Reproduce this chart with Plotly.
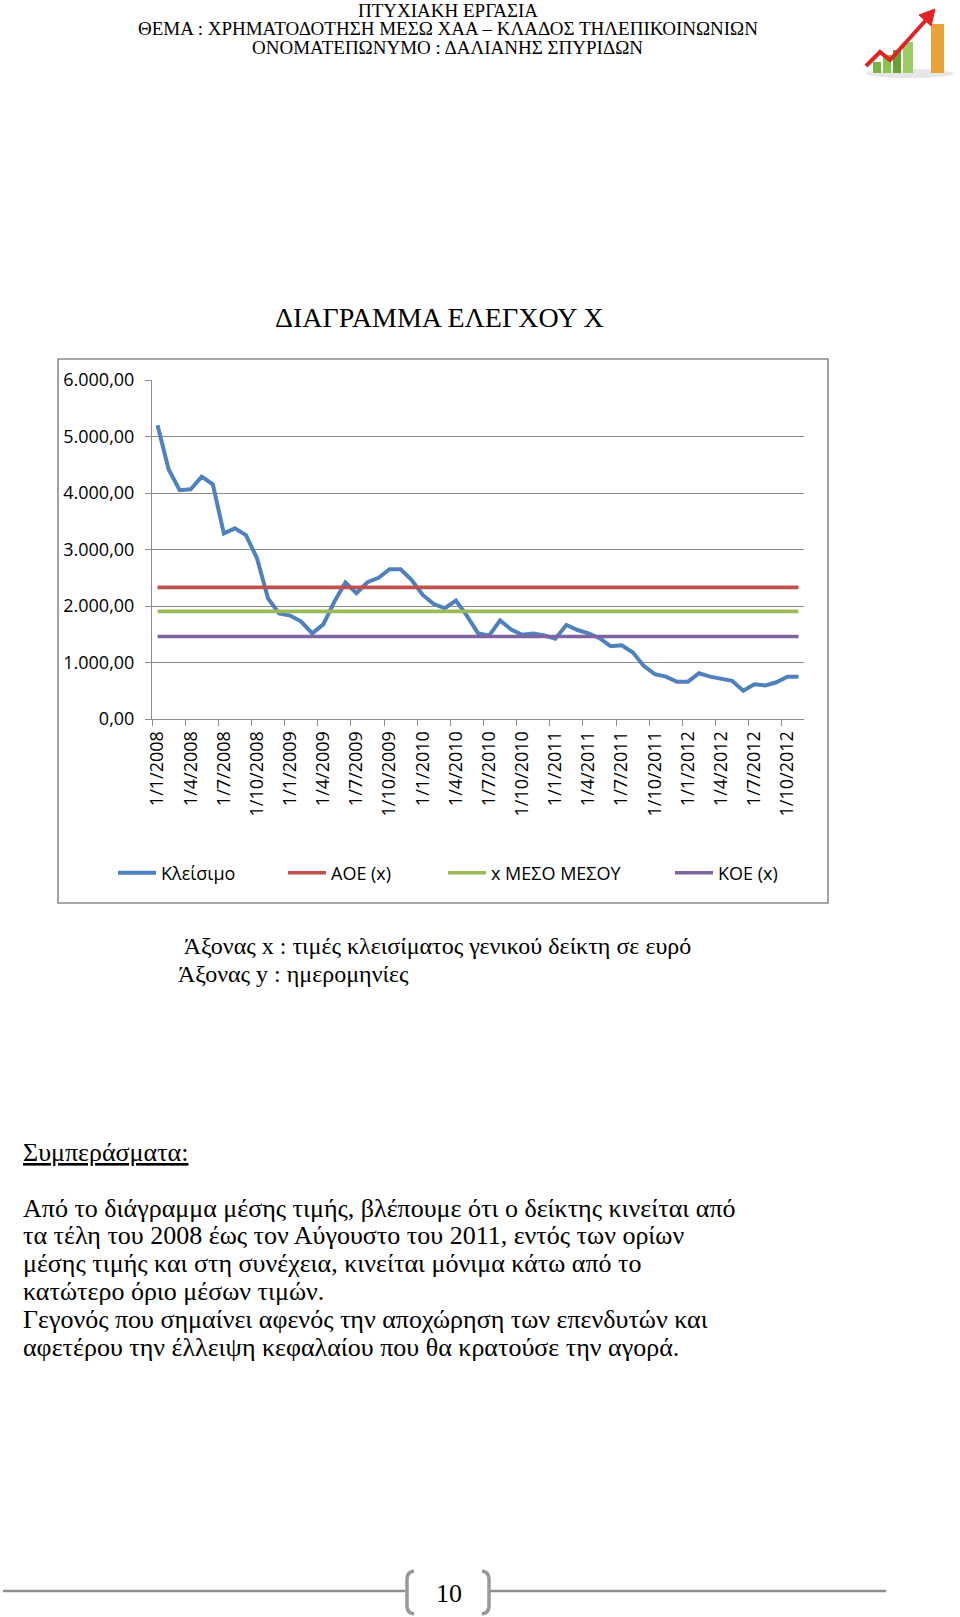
import plotly.graph_objects as go

# ---------------- data ----------------
months = [f"1/{m}/{y}" for y in range(2008, 2013) for m in range(1, 13)][:59]
closing = [5200, 4420, 4050, 4065, 4290, 4155, 3285, 3375, 3255, 2845,
           2135, 1870, 1830, 1725, 1515, 1675, 2075, 2415, 2225, 2420,
           2500, 2650, 2650, 2460, 2195, 2035, 1960, 2095, 1825, 1520,
           1475, 1745, 1585, 1490, 1515, 1480, 1420, 1665, 1575, 1515,
           1430, 1290, 1305, 1180, 940, 795, 750, 660, 660, 810,
           750, 710, 675, 500, 615, 595, 650, 750, 750]
aoe_x = 2330
mean_x = 1905
koe_x = 1460
series_names = ["Κλείσιμο", "ΑΟΕ (x)", "x ΜΕΣΟ ΜΕΣΟΥ", "ΚΟΕ (x)"]

header_lines = ["ΠΤΥΧΙΑΚΗ ΕΡΓΑΣΙΑ",
                "ΘΕΜΑ : ΧΡΗΜΑΤΟΔΟΤΗΣΗ ΜΕΣΩ ΧΑΑ – ΚΛΑΔΟΣ ΤΗΛΕΠΙΚΟΙΝΩΝΙΩΝ",
                "ΟΝΟΜΑΤΕΠΩΝΥΜΟ : ΔΑΛΙΑΝΗΣ ΣΠΥΡΙΔΩΝ"]
chart_title = "ΔΙΑΓΡΑΜΜΑ ΕΛΕΓΧΟΥ Χ"
caption_lines = [" Άξονας x : τιμές κλεισίματος γενικού δείκτη σε ευρό",
                 "Άξονας y : ημερομηνίες"]
conclusion_heading = "Συμπεράσματα:"
conclusion_lines = [
    "Από το διάγραμμα μέσης τιμής, βλέπουμε ότι ο δείκτης κινείται από",
    "τα τέλη του 2008 έως τον Αύγουστο του 2011, εντός των ορίων",
    "μέσης τιμής και στη συνέχεια, κινείται μόνιμα κάτω από το",
    "κατώτερο όριο μέσων τιμών.",
    "Γεγονός που σημαίνει αφενός την αποχώρηση των επενδυτών και",
    "αφετέρου την έλλειψη κεφαλαίου που θα κρατούσε την αγορά.",
]
page_number = "10"

# ---------------- geometry helpers ----------------
W, H = 960, 1617
L, R, T, B = 152, 156, 380, 898
PW = W - L - R
PH = H - T - B


def px(x):
    return (x - L) / PW


def py(y):
    return (H - B - y) / PH


def path(cmds):
    out = []
    for c in cmds:
        if isinstance(c, str):
            out.append(c)
        else:
            out.append(f"{px(c[0]):.5f},{py(c[1]):.5f}")
    return " ".join(out)


colors = ["#4F81BD", "#C0504D", "#9BBB59", "#8064A2"]
line_widths = [4, 3.6, 3.6, 3.6]
legend_widths = [117, 107, 174, 70]
axis_gray = "#8c8c8c"
chart_font = "Open Sans"
serif = "Liberation Serif"

fig = go.Figure()
series_values = [closing, [aoe_x] * len(months), [mean_x] * len(months), [koe_x] * len(months)]
for name, vals, col, lw, lgw in zip(series_names, series_values, colors, line_widths, legend_widths):
    fig.add_trace(go.Scatter(x=months, y=vals, mode="lines", name=name,
                             line=dict(color=col, width=lw),
                             legendwidth=lgw, hoverinfo="skip"))

# ---------------- annotations ----------------
ann = []
for t, yc in zip(header_lines, [10, 28.5, 47]):
    ann.append(dict(text=t, x=px(447.5), y=py(yc), xanchor="center", yanchor="middle",
                    font=dict(family=serif, size=19, color="#000")))
ann.append(dict(text=chart_title, x=px(439.5), y=py(317), xanchor="center", yanchor="middle",
                font=dict(family=serif, size=28, color="#000")))
for t, x0, yc in zip(caption_lines, [177, 176], [946, 974]):
    ann.append(dict(text=t, x=px(x0), y=py(yc), xanchor="left", yanchor="middle",
                    font=dict(family=serif, size=24, color="#000")))
ann.append(dict(text=f"<u>{conclusion_heading}</u>", x=px(21), y=py(1152), xanchor="left",
                yanchor="middle", font=dict(family=serif, size=26, color="#000")))
for k, t in enumerate(conclusion_lines):
    ann.append(dict(text=t, x=px(21), y=py(1208 + 27.8 * k), xanchor="left", yanchor="middle",
                    font=dict(family=serif, size=26, color="#000")))
ann.append(dict(text=page_number, x=px(449), y=py(1593), xanchor="center", yanchor="middle",
                font=dict(family=serif, size=26, color="#000")))
for a in ann:
    a.update(xref="paper", yref="paper", showarrow=False)

# ---------------- shapes ----------------
shapes = []
# chart border
shapes.append(dict(type="rect", x0=px(58), x1=px(828), y0=py(359), y1=py(903),
                   line=dict(color=axis_gray, width=1.6), fillcolor="rgba(0,0,0,0)", layer="below"))
# footer lines and brackets
shapes.append(dict(type="line", x0=px(3), x1=px(405), y0=py(1591), y1=py(1591),
                   line=dict(color="#8e8e8e", width=2.5)))
shapes.append(dict(type="line", x0=px(489), x1=px(886), y0=py(1591), y1=py(1591),
                   line=dict(color="#8e8e8e", width=2.5)))
shapes.append(dict(type="path", path=path(["M", (414, 1571), "Q", (407, 1572), (407, 1579), "L", (407, 1606),
                                           "Q", (407, 1613), (414, 1614)]),
                   line=dict(color="#999999", width=3.5)))
shapes.append(dict(type="path", path=path(["M", (482, 1571), "Q", (489, 1572), (489, 1579), "L", (489, 1606),
                                           "Q", (489, 1613), (482, 1614)]),
                   line=dict(color="#999999", width=3.5)))
# header icon (decorative)
shapes.append(dict(type="circle", x0=px(866), x1=px(954), y0=py(69), y1=py(78),
                   fillcolor="#e6e6e6", line=dict(width=0)))
for bx0, bx1, top, col in [(873, 881, 62, "#7cb342"), (883, 891, 55, "#8bc34a"),
                           (893, 901, 50, "#689f38"), (903, 913, 42, "#9ccc65"),
                           (931, 944, 24, "#e9a238")]:
    shapes.append(dict(type="rect", x0=px(bx0), x1=px(bx1), y0=py(73), y1=py(top),
                       fillcolor=col, line=dict(width=0)))
shapes.append(dict(type="path", path=path(["M", (866, 66), "L", (880, 52), "L", (890, 60), "L", (926, 20)]),
                   line=dict(color="#e02424", width=4)))
shapes.append(dict(type="path", path=path(["M", (935, 9), "L", (931, 26), "L", (919, 15), "Z"]),
                   fillcolor="#e02424", line=dict(color="#e02424", width=1)))
for s in shapes:
    s.update(xref="paper", yref="paper")

fig.update_layout(
    width=W, height=H,
    margin=dict(l=L, r=R, t=T, b=B, autoexpand=False),
    paper_bgcolor="white", plot_bgcolor="white",
    separators=",.",
    showlegend=True,
    legend=dict(orientation="h", x=px(113), y=py(873), xanchor="left", yanchor="middle",
                itemwidth=38,
                font=dict(family=chart_font, size=18, color="#000"),
                bgcolor="rgba(0,0,0,0)", itemclick=False, itemdoubleclick=False),
    annotations=ann, shapes=shapes,
    hovermode=False,
)
fig.update_xaxes(type="category", categoryorder="array", categoryarray=months,
                 range=[-0.5, len(months) - 0.5],
                 tickmode="linear", tick0=0, dtick=3, tickson="boundaries",
                 tickangle=-90, ticks="outside", ticklen=6, tickcolor=axis_gray,
                 ticklabelstandoff=4,
                 tickfont=dict(family=chart_font, size=18, color="#000"),
                 showline=True, linecolor=axis_gray, linewidth=1, showgrid=False,
                 zeroline=False)
fig.update_yaxes(range=[0, 6000], tick0=0, dtick=1000, tickformat=",.2f",
                 ticks="outside", ticklen=6, tickcolor=axis_gray, ticklabelstandoff=7,
                 tickfont=dict(family=chart_font, size=18, color="#000"),
                 showline=True, linecolor=axis_gray, linewidth=1,
                 showgrid=True, gridcolor=axis_gray, gridwidth=1, zeroline=False)

fig.write_html("out.html")
